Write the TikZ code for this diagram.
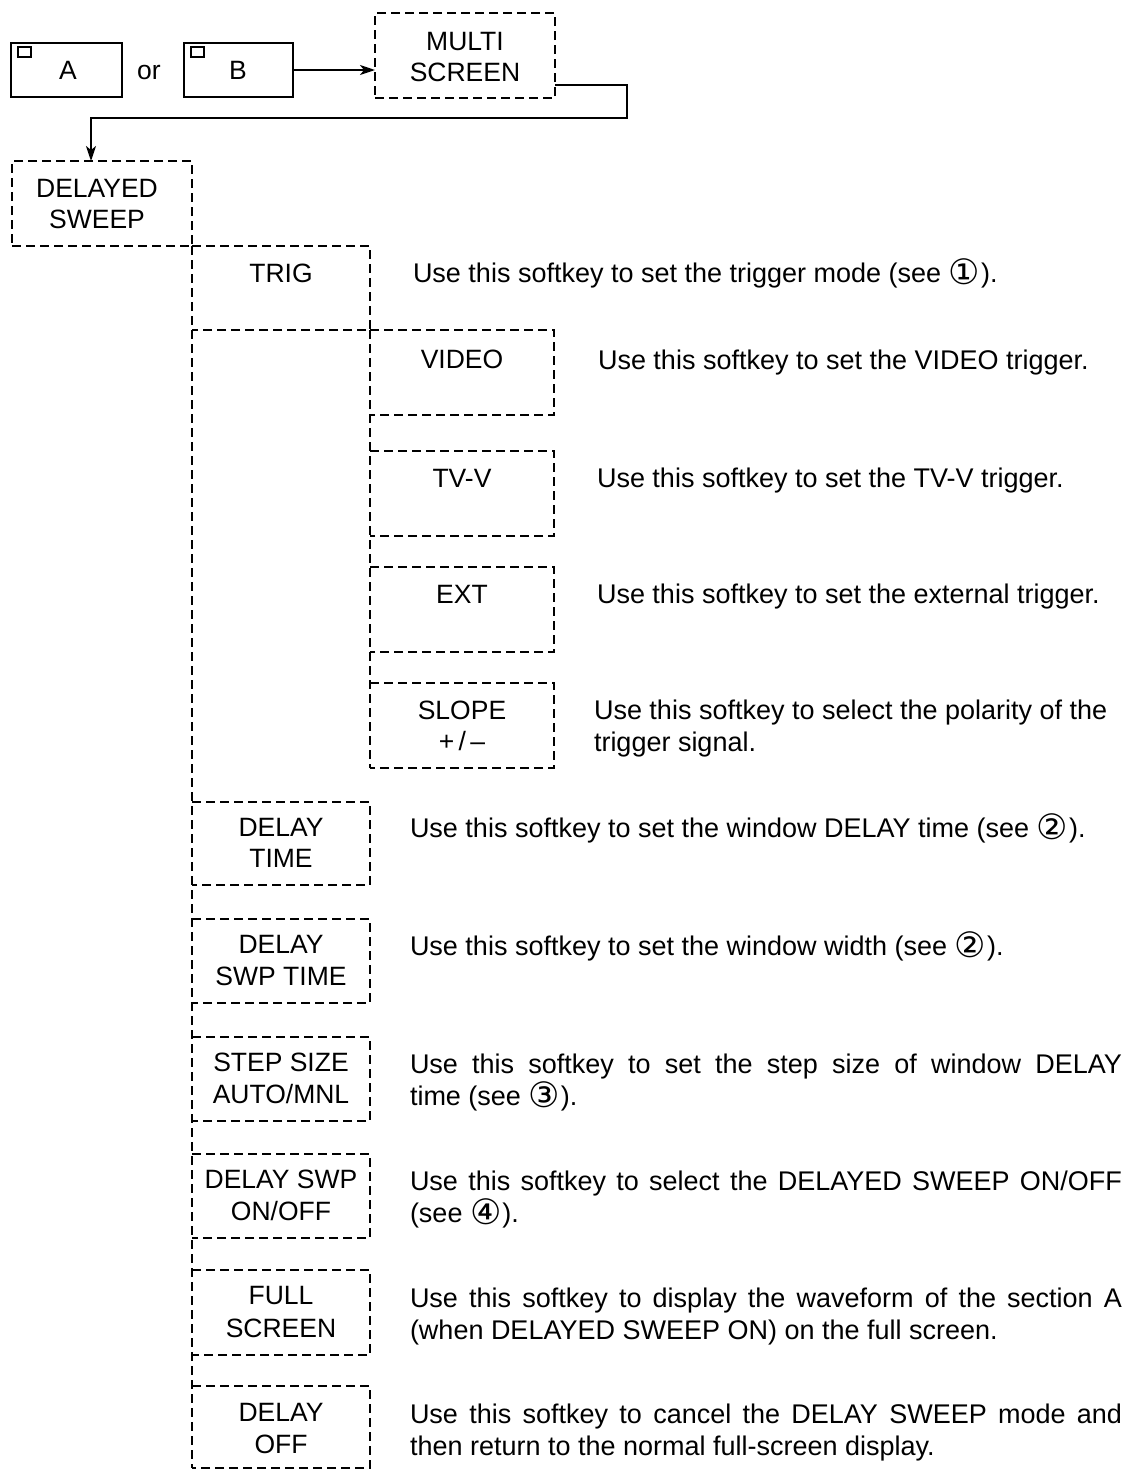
\documentclass[tikz,border=0pt]{standalone}
\usepackage{fontspec}
\setmainfont{Liberation Sans}
\newfontfamily\symf{DejaVu Sans}
\usetikzlibrary{arrows.meta}
\newcommand\bigf{\fontsize{26.5}{31}\selectfont}
\newcommand\descf{\fontsize{27}{31}\selectfont}
\newcommand\circd[1]{\raisebox{-2pt}{\symf\fontsize{35}{36}\selectfont #1}\kern1pt}
\begin{document}
\begin{tikzpicture}[x=1pt,y=-1pt,
  every node/.style={inner sep=0pt, outer sep=0pt},
  dline/.style={line width=1.7pt, dash pattern=on 9pt off 5pt},
  sline/.style={line width=1.9pt},
  box/.style 2 args={minimum width=#1pt, minimum height=#2pt, anchor=north west},
  txt/.style={font=\bigf, anchor=base},
  desc/.style={font=\descf, anchor=base west},
  tip/.style={-{Stealth[length=15pt,width=10pt,inset=4pt]}}]
\useasboundingbox (0,0) rectangle (1130,1470);

% top row
\node[box={111}{54}, draw, sline] (boxA) at (11,43) {};
\node[box={13}{10}, draw, line width=1.4pt] (sqA) at (18,47) {};
\node[txt] (labA) at (68,79) {A};
\node[txt] (or) at (149,79) {or};
\node[box={109}{54}, draw, sline] (boxB) at (184,43) {};
\node[box={13}{10}, draw, line width=1.4pt] (sqB) at (191,47) {};
\node[txt] (labB) at (238,79) {B};
\node[box={180}{85}, draw, dline] (multi) at (375,13) {};
\node[txt] (multiA) at (465,50) {MULTI};
\node[txt] (multiB) at (465,81) {SCREEN};
\draw[sline, tip] (boxB.east) -- (boxB.east -| multi.west);
\coordinate (mx) at (555,85);
\coordinate (turn) at (627,118);
\coordinate (dswin) at (91,161);
\draw[sline, tip] (mx) -| (turn) -| (dswin);

% delayed sweep
\node[box={180}{85}, draw, dline] (dsw) at (12,161) {};
\node[txt] (dswA) at (97,197) {DELAYED};
\node[txt] (dswB) at (97,228) {SWEEP};

% boxes (outline drawn below)
\node[box={178}{84}] (trig) at (192,246) {};
\node[box={184}{85}] (video) at (370,330) {};
\node[box={184}{85}] (tvv) at (370,451) {};
\node[box={184}{85}] (ext) at (370,567) {};
\node[box={184}{85}] (slope) at (370,683) {};
\node[box={178}{83}] (dtime) at (192,802) {};
\node[box={178}{84}] (dswt) at (192,919) {};
\node[box={178}{84}] (step) at (192,1037) {};
\node[box={178}{84}] (onoff) at (192,1154) {};
\node[box={178}{85}] (full) at (192,1270) {};
\node[box={178}{82}] (doff) at (192,1386) {};

\draw[dline] (dsw.south east) -- (doff.south west);
\draw[dline] (trig.south east) -- (slope.south west);
\foreach \n in {trig,video,tvv,ext,slope,dtime,dswt,step,onoff,full,doff}
  \draw[dline] (\n.north west) -- (\n.north east) -- (\n.south east) -- (\n.south west);

% box labels
\node[txt] (trigT) at (281,282) {TRIG};
\node[txt] (videoT) at (462,368) {VIDEO};
\node[txt] (tvvT) at (462,487) {TV-V};
\node[txt] (extT) at (462,603) {EXT};
\node[txt] (slopeT) at (462,719) {SLOPE};
\node[txt] (slopeU) at (462,750) {+\,/\,–};
\node[txt] (dtimeT) at (281,836) {DELAY};
\node[txt] (dtimeU) at (281,867) {TIME};
\node[txt] (dswtT) at (281,953) {DELAY};
\node[txt] (dswtU) at (281,985) {SWP TIME};
\node[txt] (stepT) at (281,1071) {STEP SIZE};
\node[txt] (stepU) at (281,1103) {AUTO/MNL};
\node[txt] (onoffT) at (281,1188) {DELAY SWP};
\node[txt] (onoffU) at (281,1220) {ON/OFF};
\node[txt] (fullT) at (281,1304) {FULL};
\node[txt] (fullU) at (281,1337) {SCREEN};
\node[txt] (doffT) at (281,1421) {DELAY};
\node[txt] (doffU) at (281,1453) {OFF};

% descriptions
\node[desc] (d1) at (413,282) {Use this softkey to set the trigger mode (see \circd{①}).};
\node[desc] (d2) at (598,369) {Use this softkey to set the VIDEO trigger.};
\node[desc] (d3) at (597,487) {Use this softkey to set the TV-V trigger.};
\node[desc] (d4) at (597,603) {Use this softkey to set the external trigger.};
\node[desc] (d5a) at (594,719) {Use this softkey to select the polarity of the};
\node[desc] (d5b) at (594,751) {trigger signal.};
\node[desc] (d6) at (410,837) {Use this softkey to set the window DELAY time (see \circd{②}).};
\node[desc] (d7) at (410,955) {Use this softkey to set the window width (see \circd{②}).};
\node[desc] (d8a) at (410,1073) {\makebox[712pt][s]{Use this softkey to set the step size of window DELAY}};
\node[desc] (d8b) at (410,1105) {time (see \circd{③}).};
\node[desc] (d9a) at (410,1190) {\makebox[712pt][s]{Use this softkey to select the DELAYED SWEEP ON/OFF}};
\node[desc] (d9b) at (410,1222) {(see \circd{④}).};
\node[desc] (d10a) at (410,1307) {\makebox[712pt][s]{Use this softkey to display the waveform of the section A}};
\node[desc] (d10b) at (410,1339) {(when DELAYED SWEEP ON) on the full screen.};
\node[desc] (d11a) at (410,1423) {\makebox[712pt][s]{Use this softkey to cancel the DELAY SWEEP mode and}};
\node[desc] (d11b) at (410,1455) {then return to the normal full-screen display.};
\end{tikzpicture}
\end{document}
